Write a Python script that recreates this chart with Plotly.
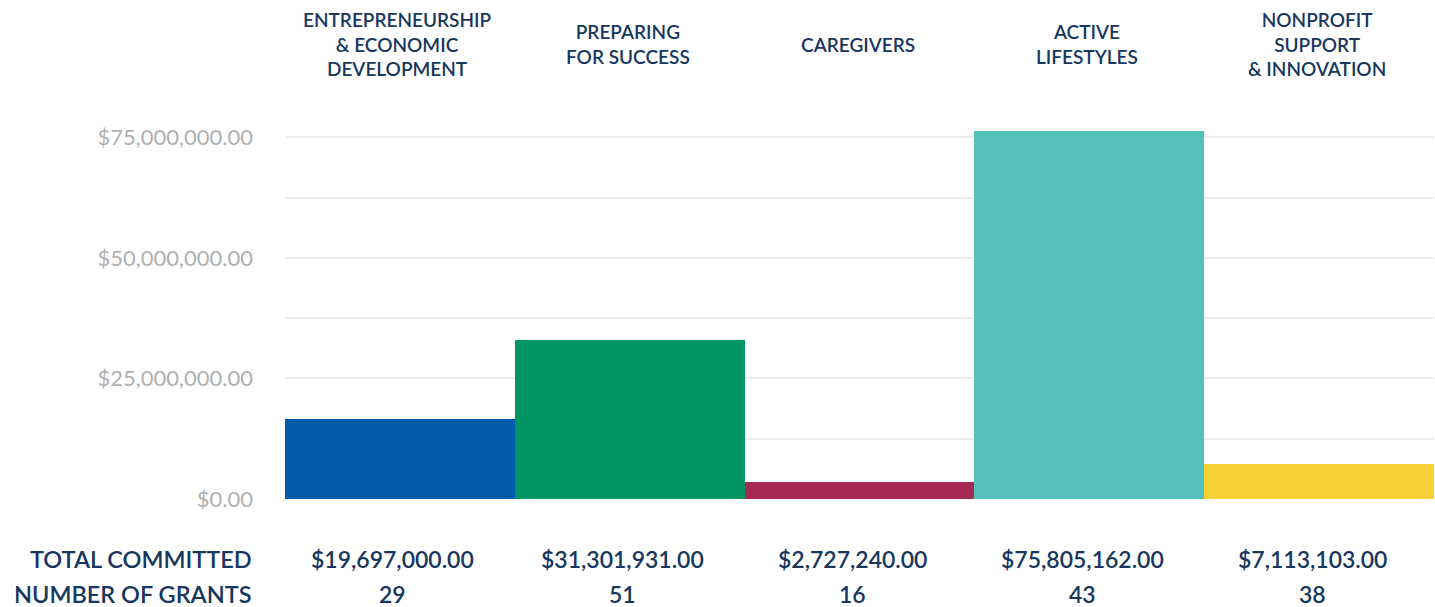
import plotly.graph_objects as go

categories = ["Entrepreneurship", "Preparing", "Caregivers", "Active", "Nonprofit"]
headers = [
    "ENTREPRENEURSHIP<br>& ECONOMIC<br>DEVELOPMENT",
    "PREPARING<br>FOR SUCCESS",
    "CAREGIVERS",
    "ACTIVE<br>LIFESTYLES",
    "NONPROFIT<br>SUPPORT<br>& INNOVATION",
]
bar_values = [16.5e6, 33.0e6, 3.6e6, 76.3e6, 7.2e6]
total_committed = ["$19,697,000.00", "$31,301,931.00", "$2,727,240.00", "$75,805,162.00", "$7,113,103.00"]
number_of_grants = ["29", "51", "16", "43", "38"]
colors = ["#005BAA", "#009565", "#A52853", "#54C0BA", "#F8D038"]
tick_vals = [0, 25e6, 50e6, 75e6]
tick_text = ["$0.00", "$25,000,000.00", "$50,000,000.00", "$75,000,000.00"]

W, H = 1435, 607
T, B = 123, 499
L, R = 285, 1434

def py(pix):
    return (B - pix) / (B - T)

def px(pix):
    return (pix - L) / (R - L)

NAVY = "#17375E"
fig = go.Figure(go.Bar(
    x=categories, y=bar_values, marker=dict(color=colors, line=dict(width=0)),
    hoverinfo="skip",
))

anns = []
for c, h in zip(categories, headers):
    anns.append(dict(x=c, xref="x", y=py(44), yref="paper", text=h, showarrow=False,
                     xanchor="center", yanchor="middle", align="center", xshift=-2,
                     font=dict(family="Lato", size=19, color=NAVY, weight=600)))
for c, t, n in zip(categories, total_committed, number_of_grants):
    anns.append(dict(x=c, xref="x", y=py(559), yref="paper", text=t, showarrow=False,
                     xanchor="center", yanchor="middle", xshift=-7,
                     font=dict(family="Lato", size=23, color=NAVY, weight=600)))
    anns.append(dict(x=c, xref="x", y=py(594), yref="paper", text=n, showarrow=False,
                     xanchor="center", yanchor="middle", xshift=-7,
                     font=dict(family="Lato", size=23, color=NAVY, weight=600)))
for label, pix in [("TOTAL COMMITTED", 559), ("NUMBER OF GRANTS", 594)]:
    anns.append(dict(x=px(254), xref="paper", y=py(pix), yref="paper", text=label,
                     showarrow=False, xanchor="right", yanchor="middle",
                     font=dict(family="Lato", size=23.5, color=NAVY, weight=600)))

fig.update_layout(
    width=W, height=H,
    margin=dict(l=L, r=W - R, t=T, b=H - B, pad=0),
    paper_bgcolor="white", plot_bgcolor="white",
    bargap=0, showlegend=False,
    xaxis=dict(showticklabels=False, showgrid=False, zeroline=False, showline=False, ticks=""),
    yaxis=dict(range=[0, 78e6], tickvals=tick_vals, ticktext=tick_text,
               showgrid=True, gridcolor="#ECECEC", gridwidth=1.5,
               minor=dict(dtick=12.5e6, tick0=0, showgrid=True, gridcolor="#ECECEC", gridwidth=1.5),
               zeroline=False, showline=False, ticks="",
               ticklabelstandoff=31,
               tickfont=dict(family="Lato", size=22, color="#B0B0B0")),
    annotations=anns,
)

fig.write_html(
    "out.html",
    config={"displayModeBar": False},
    post_script="document.body.style.margin='0';document.body.style.overflow='hidden';"
                "document.documentElement.style.overflow='hidden';",
)
